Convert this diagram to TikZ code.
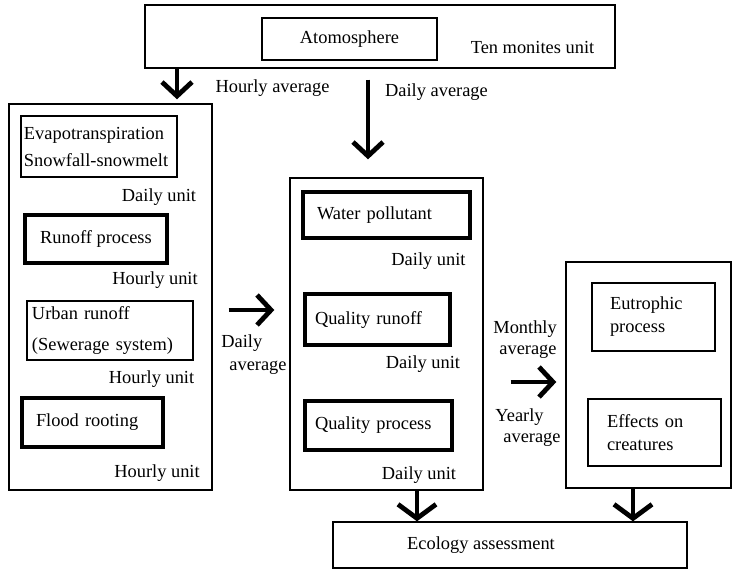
\documentclass[tikz,border=0pt]{standalone}
\usepackage{fontspec}
\setmainfont{Liberation Serif}
\usetikzlibrary{arrows.meta}
\begin{document}
\begin{tikzpicture}[x=0.5pt,y=-0.5pt,
  every node/.style={font=\fontsize{9.2}{11.5}\selectfont, inner sep=0pt},
  box/.style={draw, line width=0.7pt, inner sep=0pt, rectangle},
  tbox/.style={draw, line width=2pt, inner sep=0pt, rectangle},
  lbl/.style={inner sep=0pt},
  bigarrow/.style={line width=2.4pt, -{Straight Barb[length=7pt,width=15pt]}},
  widearrow/.style={line width=2.4pt, -{Straight Barb[length=7pt,width=19pt]}},
]
\useasboundingbox (0,0) rectangle (732,570);

% top block
\node[box, minimum width=235pt, minimum height=31.5pt] (top) at (380,36.5) {};
\node[box, minimum width=87.5pt, minimum height=21pt] (atm) at (349.5,39) {Atomosphere};
\node[lbl] (tenmin) at (532.5,47) {Ten monites unit};

% left block
\node[box, minimum width=101.5pt, minimum height=193pt] (left) at (110.5,297) {};
\node[box, minimum width=78pt, minimum height=30.5pt, text width=75pt, align=left] (evap) at (99,146.5) {Evapotranspiration\\[2pt]Snowfall-snowmelt};
\node[lbl] (du1) at (159,197) {Daily unit};
\node[tbox, minimum width=71pt, minimum height=24pt] (runoff) at (96,239) {Runoff process};
\node[lbl] (hu1) at (155,280) {Hourly unit};
\node[box, minimum width=83pt, minimum height=29.5pt, text width=78pt, align=left] (urban) at (110,330.5) {Urban runoff\\[4pt](Sewerage system)};
\node[lbl] (hu2) at (151.5,379) {Hourly unit};
\node[tbox, minimum width=70.5pt, minimum height=24.5pt, text width=56.5pt, align=left] (flood) at (92.5,422.5) {Flood rooting};
\node[lbl] (hu3) at (157,473) {Hourly unit};

% middle block
\node[box, minimum width=96.5pt, minimum height=156pt] (mid) at (386.5,334) {};
\node[tbox, minimum width=83.5pt, minimum height=23pt, text width=69.5pt, align=left] (water) at (386.5,215) {Water pollutant};
\node[lbl] (du2) at (428.5,261) {Daily unit};
\node[tbox, minimum width=72.5pt, minimum height=25.5pt, text width=62.5pt, align=left] (qrun) at (377.5,319.5) {Quality runoff};
\node[lbl] (du3) at (423,364) {Daily unit};
\node[tbox, minimum width=73.5pt, minimum height=24.5pt, text width=63.5pt, align=left] (qproc) at (378.5,425.5) {Quality process};
\node[lbl] (du4) at (419,475) {Daily unit};

% right block
\node[box, minimum width=82.5pt, minimum height=113pt] (right) at (648.5,375) {};
\node[box, minimum width=61.5pt, minimum height=34pt, text width=43.5pt, align=left] (eutro) at (653.5,317) {Eutrophic\\process};
\node[box, minimum width=66.5pt, minimum height=33.5pt, text width=47.5pt, align=left] (effects) at (654.5,432.5) {Effects on\\creatures};

% bottom
\node[box, minimum width=177pt, minimum height=23pt] (eco) at (510,545) {\hspace*{-29pt}Ecology assessment};

% arrow labels
\node[lbl] (hourlyavg) at (272.5,88) {Hourly average};
\node[lbl] (dailyavg) at (436.5,92) {Daily average};
\node[lbl, align=left, anchor=west] (dailyavg2) at (221,354.5) {Daily\\\hspace*{4pt}average};
\node[lbl, align=left, anchor=west] (monthly) at (493,339.5) {Monthly\\[-1pt]\hspace*{3pt}average};
\node[lbl, align=left, anchor=west] (yearly) at (495,427.5) {Yearly\\[-1pt]\hspace*{4pt}average};

% arrow guide coordinates
\coordinate (x1) at (177,0);
\coordinate (x2) at (368,0);
\coordinate (y3) at (0,310);
\coordinate (y4) at (0,382);
\coordinate (x5) at (417,0);
\coordinate (x6) at (633,0);

% arrows
\draw[bigarrow, shorten >=2pt] (top.south -| x1) -- (left.north -| x1);
\draw[bigarrow, shorten <=5.5pt, shorten >=9pt] (top.south -| x2) -- (mid.north -| x2);
\draw[bigarrow, shorten <=8pt, shorten >=7.5pt] (left.east |- y3) -- (mid.west |- y3);
\draw[bigarrow, shorten <=13.5pt, shorten >=4.5pt] (mid.east |- y4) -- (right.west |- y4);
\draw[widearrow] (mid.south -| x5) -- (eco.north -| x5);
\draw[widearrow] (right.south -| x6) -- (eco.north -| x6);
\end{tikzpicture}
\end{document}
